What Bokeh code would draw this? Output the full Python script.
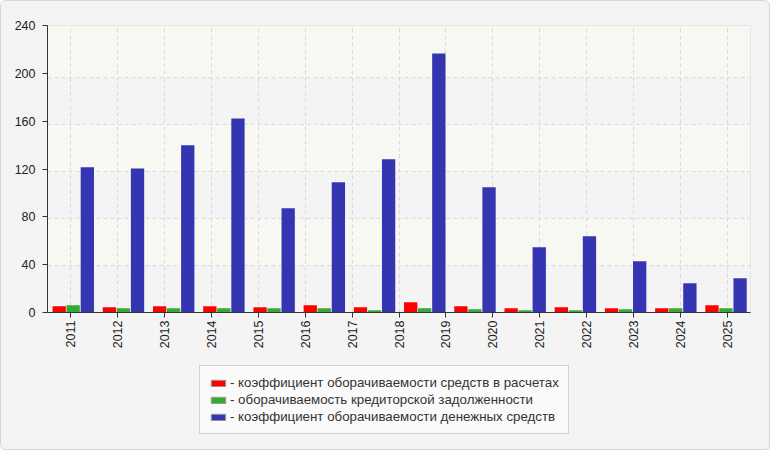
import math
from bokeh.plotting import figure
from bokeh.layouts import column
from bokeh.models import (Range1d, FixedTicker, CustomJSTickFormatter, Legend, LegendItem,
                          ColumnDataSource)
from bokeh.embed import file_html
from bokeh.resources import INLINE

# ---- data ----
years = [str(y) for y in range(2011, 2026)]
receivables_turnover = [5.3, 4.4, 5.3, 5.3, 4.4, 6.1, 4.4, 8.6, 5.3, 3.6, 4.4, 3.6, 3.6, 6.1]
payables_turnover = [6.1, 3.6, 3.6, 3.6, 3.6, 3.6, 1.9, 3.6, 2.8, 1.9, 1.9, 2.8, 3.6, 3.6]
cash_turnover = [121.4, 120.5, 139.8, 162.3, 87.1, 108.9, 128.1, 216.6, 104.7, 54.6, 63.7, 42.9, 24.5, 28.7]
series_names = ["коэффициент оборачиваемости средств в расчетах",
                "оборачиваемость кредиторской задолженности",
                "коэффициент оборачиваемости денежных средств"]
y_ticks = [0, 40, 80, 120, 160, 200, 240]

colors = ["#ff0000", "#33aa33", "#3535b2"]
FONT = "Liberation Sans"
BG = "#f4f4f4"

n_groups = len(cash_turnover)
n_labels = len(years)
all_series = [receivables_turnover, payables_turnover, cash_turnover]

p = figure(width=768, height=360, x_range=Range1d(0, n_groups), y_range=Range1d(0, 240),
           output_backend="svg", toolbar_location=None,
           min_border_left=46, min_border_right=19, min_border_top=24, min_border_bottom=49)

p.border_fill_color = BG
p.background_fill_color = "#fcfcf6"
p.outline_line_color = "#dddddd"

# background bands following the gridlines
GRID_SCALE = 0.982
grid_vals = [v * GRID_SCALE for v in y_ticks[:-1]]
band_edges = grid_vals + [y_ticks[-1]]
bands = ColumnDataSource(dict(
    bottom=band_edges[:-1], top=band_edges[1:],
    fill=["#f9f9f9" if i % 2 == 0 else "#fcfcf6" for i in range(len(band_edges) - 1)],
    hatch=["#eeeeee" if i % 2 == 0 else "#f4f4ee" for i in range(len(band_edges) - 1)],
))
p.quad(left=0, right=n_groups, bottom="bottom", top="top", source=bands,
       fill_color="fill", line_color=None, hatch_pattern="/", hatch_color="hatch",
       hatch_scale=4, hatch_weight=1, level="image")

# bars
width = 0.265
offsets = [0.233, 0.511, 0.793]
for vals, off, col in zip(all_series, offsets, colors):
    xs = [k + off for k in range(n_groups)]
    p.vbar(x=xs, top=vals, width=width, fill_color=col, line_color=None)

# axes
x_tick_pos = [(i + 0.5) * n_groups / n_labels for i in range(n_labels)]
p.xaxis.ticker = FixedTicker(ticks=x_tick_pos)
p.xaxis.formatter = CustomJSTickFormatter(args=dict(labels=years, ng=n_groups, nl=n_labels),
                                          code="const i = Math.round(tick*nl/ng - 0.5); return labels[i];")
p.xaxis.major_label_orientation = math.pi / 2
p.yaxis.ticker = FixedTicker(ticks=y_ticks)
for ax in (p.xaxis[0], p.yaxis[0]):
    ax.axis_line_color = "#333333"
    ax.major_tick_line_color = "#333333"
    ax.major_tick_out = 5
    ax.major_tick_in = 0
    ax.minor_tick_line_color = None
    ax.major_label_text_font = FONT
    ax.major_label_text_font_size = "12.5px"
    ax.major_label_text_color = "#222222"
p.yaxis.major_label_standoff = 7
p.xaxis.major_label_standoff = 3

p.xgrid.ticker = FixedTicker(ticks=x_tick_pos)
p.ygrid.ticker = FixedTicker(ticks=grid_vals)
for g in (p.xgrid[0], p.ygrid[0]):
    g.grid_line_color = "#dadada"
    g.grid_line_dash = "4 3"
    g.grid_line_width = 1

# ---- legend panel (series drawn out of view, only their swatches show) ----
pl = figure(width=768, height=88, x_range=Range1d(0, n_groups), y_range=Range1d(1000, 1001),
            x_axis_type=None, y_axis_type=None, output_backend="svg", toolbar_location=None,
            min_border=0)
pl.border_fill_color = BG
pl.background_fill_color = BG
pl.outline_line_color = None
pl.grid.visible = False
renderers = []
for vals, off, col in zip(all_series, offsets, colors):
    xs = [k + off for k in range(n_groups)]
    renderers.append(pl.vbar(x=xs, top=vals, width=width, fill_color=col, line_color="#999999"))

legend = Legend(items=[LegendItem(label="- " + n, renderers=[r]) for n, r in zip(series_names, renderers)],
                location=(152, 15), orientation="vertical")
legend.label_text_font = FONT
legend.label_text_font_size = "13.3px"
legend.label_text_color = "#333333"
legend.glyph_width = 18
legend.glyph_height = 8
legend.label_height = 15
legend.label_standoff = 3
legend.spacing = 2
legend.padding = 9
legend.margin = 0
legend.border_line_color = "#aaaaaa"
legend.background_fill_color = "#fafafa"
legend.background_fill_alpha = 1
pl.add_layout(legend, "center")

layout = column(p, pl, spacing=0,
                styles={"position": "absolute", "left": "0px", "top": "0px",
                        "border": "1px solid #d8d8d8", "border-radius": "6px", "overflow": "hidden",
                        "background-color": BG,
                        "box-shadow": "1px 1px 2px rgba(0,0,0,0.12)"})

open("out.html", "w").write(file_html(layout, INLINE))
